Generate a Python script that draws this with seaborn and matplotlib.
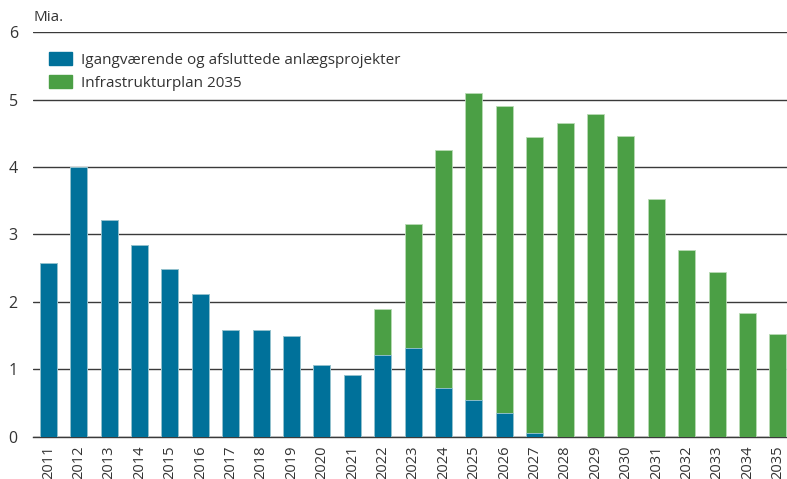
import seaborn as sns
import matplotlib.pyplot as plt
import pandas as pd
from matplotlib.patches import Patch

years = [str(y) for y in range(2011, 2036)]
igang = [2.57, 4.0, 3.22, 2.85, 2.49, 2.12, 1.59, 1.58, 1.50, 1.07, 0.91,
         1.21, 1.31, 0.73, 0.55, 0.36, 0.06, 0, 0, 0, 0, 0, 0, 0, 0]
total = [2.57, 4.0, 3.22, 2.85, 2.49, 2.12, 1.59, 1.58, 1.50, 1.07, 0.91,
         1.89, 3.15, 4.25, 5.10, 4.90, 4.45, 4.65, 4.79, 4.46, 3.53, 2.77,
         2.44, 1.83, 1.52]

blue = "#00719a"
green = "#4b9f45"

df = pd.DataFrame({"aar": years, "igang": igang, "total": total})

sns.set_style("white")
plt.rcParams["font.family"] = ["Open Sans", "DejaVu Sans"]

fig = plt.figure(figsize=(7.87, 4.79), dpi=100)
ax = fig.add_axes([0.042, 0.088, 0.958, 0.845])

# grønne søjler = total, blå ovenpå
sns.barplot(data=df, x="aar", y="total", color=green, width=0.56,
            edgecolor="#b9dbb5", linewidth=0.6, saturation=1, ax=ax, zorder=3)
sns.barplot(data=df, x="aar", y="igang", color=blue, width=0.56,
            edgecolor="#9cc6d6", linewidth=0.6, saturation=1, ax=ax, zorder=4)

ax.set_ylim(0, 6)
ax.set_xlim(-0.5, 24.3)
ax.set_yticks(range(0, 7))
ax.yaxis.grid(True, color="#3a3a3a", linewidth=1.0, zorder=0)
ax.set_axisbelow(True)
for s in ["top", "right", "left"]:
    ax.spines[s].set_visible(False)
ax.spines["bottom"].set_color("#3a3a3a")
ax.spines["bottom"].set_linewidth(1.0)
ax.tick_params(axis="y", length=0, labelsize=11.5, colors="#333333", pad=11)
ax.tick_params(axis="x", length=0, labelsize=10.5, colors="#333333", pad=6)
plt.setp(ax.get_xticklabels(), rotation=90)
ax.set_xlabel("")
ax.set_ylabel("")

fig.text(0.042, 0.948, "Mia.", fontsize=11, color="#333333", va="bottom")

handles = [Patch(color=blue, label="Igangværende og afsluttede anlægsprojekter"),
           Patch(color=green, label="Infrastrukturplan 2035")]
ax.legend(handles=handles, loc="upper left", bbox_to_anchor=(0.003, 0.985),
          frameon=False, fontsize=11, handlelength=1.5, handleheight=0.9,
          handletextpad=0.6, labelspacing=0.5, labelcolor="#333333")

fig.savefig("out.png", dpi=100)
